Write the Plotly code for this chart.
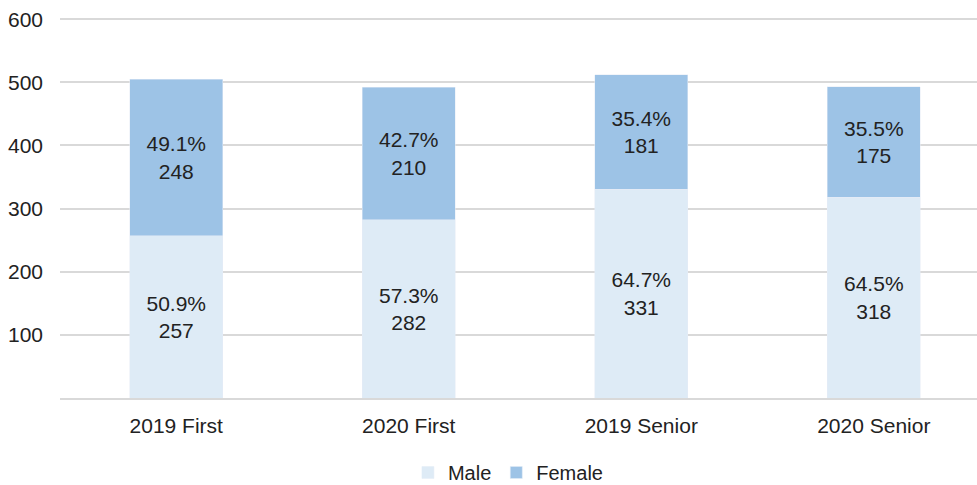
import plotly.graph_objects as go

categories = ["2019 First", "2020 First", "2019 Senior", "2020 Senior"]
male = [257, 282, 331, 318]
female = [248, 210, 181, 175]
male_pct = ["50.9%", "57.3%", "64.7%", "64.5%"]
female_pct = ["49.1%", "42.7%", "35.4%", "35.5%"]
y_ticks = [100, 200, 300, 400, 500, 600]

fig = go.Figure()
fig.add_trace(go.Bar(
    x=categories, y=male, name="Male", marker_color="#deebf6",
    text=[f"{p}<br>{v}" for p, v in zip(male_pct, male)],
    textposition="inside", insidetextanchor="middle",
    textfont=dict(size=21, color="#222222"),
))
fig.add_trace(go.Bar(
    x=categories, y=female, name="Female", marker_color="#9dc3e6",
    text=[f"{p}<br>{v}" for p, v in zip(female_pct, female)],
    textposition="inside", insidetextanchor="middle",
    textfont=dict(size=21, color="#222222"),
))

fig.update_layout(
    barmode="stack",
    bargap=0.6,
    width=977, height=485,
    margin=dict(l=60, r=0, t=16, b=87, autoexpand=False),
    plot_bgcolor="white", paper_bgcolor="white",
    font=dict(family="Liberation Sans, Arial, sans-serif", size=21, color="#222222"),
    uniformtext=dict(mode="show", minsize=21),
    legend=dict(orientation="h", x=0.489, xanchor="center", y=-0.195, yanchor="middle",
                font=dict(size=20), itemwidth=30, traceorder="normal"),
    xaxis=dict(showline=True, linecolor="#d9d9d9", linewidth=2, ticks="",
               range=[-0.5, 3.444], tickfont=dict(size=21), ticklabelstandoff=8),
    yaxis=dict(range=[0, 605], tickvals=y_ticks, showgrid=True, gridcolor="#d9d9d9",
               gridwidth=2, zeroline=False, ticks="", tickfont=dict(size=21),
               ticklabelstandoff=16),
)

fig.write_html("out.html", config={"displayModeBar": False},
               post_script="document.body.style.margin='0';document.body.style.overflow='hidden';")
